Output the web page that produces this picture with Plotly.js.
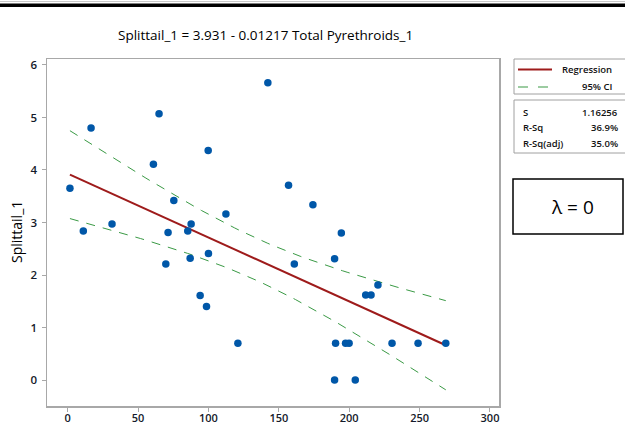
<!DOCTYPE html>
<html>
<head>
<meta charset="utf-8">
<script src="https://cdn.plot.ly/plotly-3.0.1.min.js"></script>
<style>html,body{margin:0;padding:0;background:#fff;}#chart{width:625px;height:426px;}</style>
</head>
<body>
<div id="chart"></div>
<script>
// ---- data ----
const totalPyrethroids = [1.6, 11.1, 16.6, 31.5, 60.9, 64.9, 69.7, 71.3, 75.4, 85.3, 87.0, 87.7, 94.1, 98.6, 99.8, 100.0, 112.4, 120.9, 142.2, 156.9, 161.0, 174.2, 189.6, 189.6, 190.3, 194.4, 197.4, 199.9, 204.3, 211.7, 215.5, 220.4, 230.4, 248.9, 268.6];
const splittail = [3.65, 2.84, 4.80, 2.97, 4.11, 5.07, 2.21, 2.81, 3.42, 2.84, 2.32, 2.97, 1.61, 1.40, 4.37, 2.41, 3.16, 0.70, 5.66, 3.71, 2.21, 3.34, 2.31, 0.00, 0.70, 2.80, 0.70, 0.70, 0.00, 1.62, 1.62, 1.81, 0.70, 0.70, 0.70];
const coefNames = ["Intercept", "Slope"];
const coefValues = [3.931, -0.01217];
const statLabels = ["S", "R-Sq", "R-Sq(adj)"];
const statValues = ["1.16256", "36.9%", "35.0%"];
const sValue = 1.16256;
const tCrit = 2.0345; // t(0.975, n-2 = 33)
const xTicks = [0, 50, 100, 150, 200, 250, 300];
const yTicks = [0, 1, 2, 3, 4, 5, 6];
const titleText = "Splittail_1 = 3.931 - 0.01217 Total Pyrethroids_1";
const yTitle = "Splittail_1";
const legendLabels = ["Regression", "95% CI"];
const lambdaText = "λ = 0";

// ---- derived: fitted line and 95% CI for the mean ----
const n = totalPyrethroids.length;
const xbar = totalPyrethroids.reduce((a, b) => a + b, 0) / n;
const sxx = totalPyrethroids.reduce((a, b) => a + (b - xbar) * (b - xbar), 0);
const xmin = Math.min(...totalPyrethroids), xmax = Math.max(...totalPyrethroids);
const fx = [], fy = [], up = [], lo = [];
for (let i = 0; i <= 80; i++) {
  const x = xmin + (xmax - xmin) * i / 80;
  const yh = coefValues[0] + coefValues[1] * x;
  const h = tCrit * sValue * Math.sqrt(1 / n + (x - xbar) * (x - xbar) / sxx);
  fx.push(x); fy.push(yh); up.push(yh + h); lo.push(yh - h);
}

// ---- pixel -> paper helpers for decorations ----
const L = 47, R = 499, T = 59, B = 406;
const px = x => (x - L) / (R - L);
const py = y => (B - y) / (B - T);

const FONT = "Open Sans, Noto Sans, sans-serif";
const red = "#9e1b1b", green = "#3a9a45", blue = "#0057a8";

const traces = [
  {x: fx, y: up, mode: "lines", line: {color: green, width: 1, dash: "9px,8px"}, hoverinfo: "skip"},
  {x: fx, y: lo, mode: "lines", line: {color: green, width: 1, dash: "9px,8px"}, hoverinfo: "skip"},
  {x: fx, y: fy, mode: "lines", line: {color: red, width: 2}, hoverinfo: "skip"},
  {x: totalPyrethroids, y: splittail, mode: "markers", marker: {color: blue, size: 7.5}}
];

const smallFont = {family: FONT, size: 9.5, color: "#111", weight: 600};
const annotations = [
  {text: titleText, xref: "paper", yref: "paper", x: px(265.5), y: py(35), xanchor: "center", yanchor: "middle", showarrow: false, font: {family: FONT, size: 13.5, color: "#000"}},
  {text: yTitle, xref: "paper", yref: "paper", x: px(16), y: py(232), xanchor: "center", yanchor: "middle", textangle: -90, showarrow: false, font: {family: FONT, size: 14, color: "#000"}},
  {text: legendLabels[0], xref: "paper", yref: "paper", x: px(614), y: py(69.5), xanchor: "right", yanchor: "middle", showarrow: false, font: smallFont},
  {text: legendLabels[1], xref: "paper", yref: "paper", x: px(614), y: py(87), xanchor: "right", yanchor: "middle", showarrow: false, font: smallFont},
  {text: lambdaText, xref: "paper", yref: "paper", x: px(572), y: py(207), xanchor: "center", yanchor: "middle", showarrow: false, font: {family: FONT, size: 19, color: "#000"}}
];
const statY = [112, 127.5, 143];
statLabels.forEach((s, i) => {
  annotations.push({text: s, xref: "paper", yref: "paper", x: px(521), y: py(statY[i]), xanchor: "left", yanchor: "middle", showarrow: false, font: smallFont});
  annotations.push({text: statValues[i], xref: "paper", yref: "paper", x: px(620), y: py(statY[i]), xanchor: "right", yanchor: "middle", showarrow: false, font: smallFont});
});

const shapes = [
  {type: "rect", xref: "paper", yref: "paper", x0: px(-5), x1: px(640), y0: py(3.5), y1: py(7), fillcolor: "#000", line: {width: 0}},
  {type: "line", xref: "paper", yref: "paper", x0: px(-5), x1: px(640), y0: py(1.5), y1: py(1.5), line: {color: "#c8c8c8", width: 1}},
  {type: "rect", xref: "paper", yref: "paper", x0: px(514), x1: px(640), y0: py(59), y1: py(94), line: {color: "#a0a0a0", width: 1}},
  {type: "rect", xref: "paper", yref: "paper", x0: px(514), x1: px(640), y0: py(100), y1: py(153), line: {color: "#a0a0a0", width: 1}},
  {type: "line", xref: "paper", yref: "paper", x0: px(518), x1: px(552), y0: py(69.5), y1: py(69.5), line: {color: red, width: 2}},
  {type: "line", xref: "paper", yref: "paper", x0: px(518), x1: px(549), y0: py(87), y1: py(87), line: {color: green, width: 1.2, dash: "10px,10px"}},
  {type: "rect", xref: "paper", yref: "paper", x0: px(513), x1: px(623), y0: py(179), y1: py(234), line: {color: "#000", width: 1.5}}
];

const axisCommon = {
  showline: true, mirror: true, linecolor: "#a8a8a8", linewidth: 1.5,
  ticks: "outside", ticklen: 4, tickwidth: 1, tickcolor: "#a8a8a8",
  showgrid: false, zeroline: false,
  tickfont: {family: FONT, size: 11.5, color: "#141a2a", weight: 600}
};

const layout = {
  width: 625, height: 426,
  margin: {l: L, r: 625 - R, t: T, b: 426 - B, pad: 0},
  paper_bgcolor: "#fff", plot_bgcolor: "#fff",
  showlegend: false,
  xaxis: Object.assign({}, axisCommon, {range: [-14.7, 306.4], tickvals: xTicks, ticktext: xTicks.map(String), ticklabelstandoff: -3, tickfont: {family: FONT, size: 11, color: "#141a2a", weight: 600}}),
  yaxis: Object.assign({}, axisCommon, {range: [-0.495, 6.114], tickvals: yTicks, ticktext: yTicks.map(String), ticklabelstandoff: 2}),
  annotations: annotations,
  shapes: shapes
};

Plotly.newPlot("chart", traces, layout, {displayModeBar: false, staticPlot: true});
</script>
</body>
</html>
